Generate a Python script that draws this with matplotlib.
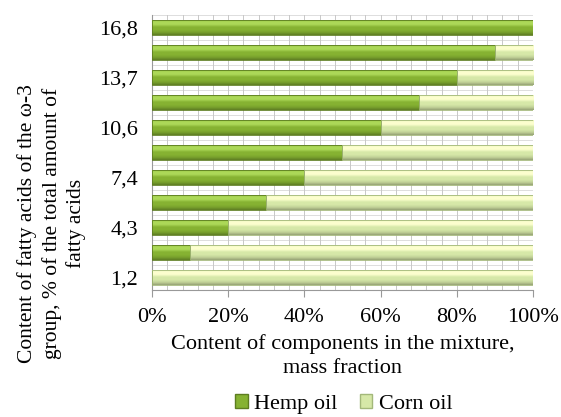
import matplotlib
matplotlib.use('Agg')
import matplotlib.pyplot as plt
from matplotlib.ticker import MultipleLocator, PercentFormatter
from matplotlib.patches import Patch
import numpy as np

plt.rcParams['font.family'] = ['Liberation Serif', 'DejaVu Serif']

# mass fraction of each oil, bottom bar first
hemp_oil = [0, 10, 20, 30, 40, 50, 60, 70, 80, 90, 100]
corn_oil = [100, 90, 80, 70, 60, 50, 40, 30, 20, 10, 0]
# omega-3 labels (only every other bar is labelled)
omega3_labels = ['1,2', '4,3', '7,4', '10,6', '13,7', '16,8']

hemp_col = '#86b232'
corn_col = '#d6e8a8'

fig = plt.figure(figsize=(5.61, 4.17), dpi=100)
ax = fig.add_axes([0.271, 0.305, 0.679, 0.66])

y = np.arange(len(hemp_oil))
h = 0.6

def shaded(bars, col, ax):
    base = np.array(matplotlib.colors.to_rgb(col))
    light = np.minimum(base + 0.15, 1)
    dark = base * 0.7
    grad = np.array([dark, base * 0.9, base, base, light, light, base])
    t = np.linspace(0, 1, 60)
    cols = np.array([np.interp(t, np.linspace(0, 1, len(grad)), grad[:, k]) for k in range(3)]).T
    for b in bars:
        if b.get_width() <= 0:
            continue
        x0, y0 = b.get_x(), b.get_y()
        im = ax.imshow(cols[:, None, :], extent=[x0, x0 + b.get_width(), y0, y0 + b.get_height()],
                       aspect='auto', zorder=3, interpolation='bilinear', origin='lower')
        im.set_clip_path(b)
        b.set_facecolor('none')

b1 = ax.barh(y, hemp_oil, height=h, color=hemp_col, edgecolor='#5d7d20', lw=0.6, zorder=4)
b2 = ax.barh(y, corn_oil, left=hemp_oil, height=h, color=corn_col, edgecolor='#a3b87a', lw=0.6, zorder=4)
shaded(b1, hemp_col, ax)
shaded(b2, corn_col, ax)

ax.set_xlim(0, 100)
ax.set_ylim(-0.5, len(hemp_oil) - 0.5)
ax.xaxis.set_major_locator(MultipleLocator(20))
ax.xaxis.set_minor_locator(MultipleLocator(4))
ax.xaxis.set_major_formatter(PercentFormatter(decimals=0))
ax.grid(axis='x', which='both', color='#c8c8c8', lw=0.7, zorder=0)
for yy in np.arange(-0.5, len(hemp_oil), 0.5):
    ax.axhline(yy, color='#dddddd', lw=0.7, zorder=0)
ax.set_yticks(y[::2])
ax.set_yticklabels(omega3_labels)
ax.tick_params(axis='y', labelsize=16, length=0, pad=10)
ax.tick_params(axis='x', which='major', labelsize=16, length=5, color='#999999', pad=8)
ax.tick_params(axis='x', which='minor', length=0)
for s in ['top', 'right']:
    ax.spines[s].set_visible(False)
ax.spines['left'].set_color('#999999')
ax.spines['bottom'].set_color('#999999')

ax.set_xlabel('Content of components in the mixture,\nmass fraction', fontsize=16, labelpad=5,
              linespacing=1.4)
fig.text(0.092, 0.464, 'Content of fatty acids of the ω-3\ngroup, % of the total amount of\nfatty acids',
         fontsize=15.5, rotation=90, ha='center', va='center', multialignment='center', linespacing=1.28)

handles = [Patch(facecolor=hemp_col, edgecolor='#5d7d20'), Patch(facecolor=corn_col, edgecolor='#a3b87a')]
fig.legend(handles, ['Hemp oil', 'Corn oil'], loc='center', bbox_to_anchor=(0.613, 1 - 404 / 417),
           ncol=2, frameon=False, fontsize=16, handlelength=0.55, handleheight=0.55,
           handletextpad=0.3, columnspacing=1.0, borderpad=0)

fig.savefig('out.png', dpi=100)
